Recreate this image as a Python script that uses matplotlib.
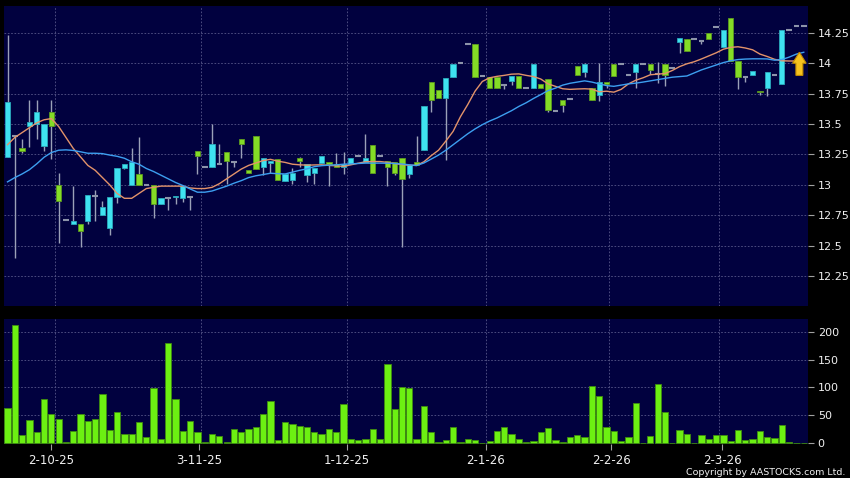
import numpy as np
import matplotlib
matplotlib.use("Agg")
import matplotlib.pyplot as plt
from matplotlib.patches import FancyArrow

# daily candles (oldest first)
opens = [13.23, 13.40, 13.30, 13.48, 13.50, 13.32, 13.60, 13.00, 12.71, 12.68,
         12.68, 12.70, 12.91, 12.75, 12.65, 12.90, 13.14, 13.00, 13.09, 13.00,
         13.00, 12.84, 12.89, 12.90, 12.89, 12.90, 13.28, 13.15, 13.15, 13.17,
         13.27, 13.19, 13.38, 13.12, 13.40, 13.15, 13.18, 13.21, 13.03, 13.04,
         13.22, 13.08, 13.10, 13.18, 13.19, 13.17, 13.15, 13.17, 13.24, 13.19,
         13.33, 13.24, 13.20, 13.19, 13.22, 13.09, 13.19, 13.29, 13.845, 13.78,
         13.715, 13.89, 14.00, 14.16, 14.16, 13.895, 13.89, 13.89, 13.82, 13.85,
         13.895, 13.80, 13.80, 13.83, 13.87, 13.61, 13.70, 13.705, 13.98, 13.93,
         13.80, 13.735, 13.845, 13.995, 13.995, 13.90, 13.93, 13.99, 13.995, 13.915,
         13.995, 13.96, 14.175, 14.20, 14.195, 14.18, 14.25, 14.30, 14.135, 14.375,
         14.015, 13.885, 13.90, 13.775, 13.80, 13.90, 13.83, 14.27, 14.305, 14.305]
highs = [14.23, 13.40, 13.38, 13.70, 13.70, 13.50, 13.70, 13.10, 12.71, 12.99,
         12.68, 12.92, 12.96, 12.87, 12.90, 13.14, 13.17, 13.30, 13.39, 13.00,
         13.00, 12.89, 12.89, 12.91, 12.99, 12.90, 13.28, 13.15, 13.50, 13.34,
         13.27, 13.19, 13.38, 13.12, 13.40, 13.22, 13.20, 13.21, 13.09, 13.14,
         13.23, 13.17, 13.14, 13.24, 13.19, 13.26, 13.27, 13.22, 13.24, 13.42,
         13.33, 13.24, 13.20, 13.19, 13.22, 13.16, 13.40, 13.645, 13.845, 13.78,
         13.88, 13.995, 14.00, 14.16, 14.16, 13.895, 13.89, 13.89, 13.82, 13.895,
         13.895, 13.80, 13.99, 13.83, 13.87, 13.61, 13.70, 13.705, 13.98, 14.00,
         13.80, 14.00, 13.845, 13.995, 13.995, 13.90, 13.995, 13.99, 13.995, 14.01,
         13.995, 13.96, 14.21, 14.20, 14.195, 14.18, 14.25, 14.30, 14.27, 14.375,
         14.015, 13.885, 13.94, 13.775, 13.93, 13.90, 14.27, 14.27, 14.305, 14.305]
lows = [13.23, 12.40, 13.26, 13.31, 13.38, 13.28, 13.21, 12.52, 12.71, 12.68,
        12.49, 12.68, 12.70, 12.75, 12.59, 12.85, 13.13, 13.00, 13.00, 13.00,
        12.73, 12.84, 12.79, 12.84, 12.86, 12.79, 13.09, 13.15, 13.15, 13.17,
        13.01, 13.15, 13.22, 13.10, 13.13, 13.08, 13.10, 13.04, 13.03, 13.01,
        13.15, 13.02, 13.01, 13.18, 12.99, 13.15, 13.09, 13.17, 13.24, 13.19,
        13.10, 13.24, 12.99, 13.08, 12.49, 13.06, 13.16, 13.29, 13.60, 13.71,
        13.205, 13.89, 14.00, 14.16, 13.89, 13.895, 13.795, 13.795, 13.79, 13.82,
        13.80, 13.80, 13.80, 13.80, 13.60, 13.61, 13.60, 13.705, 13.90, 13.89,
        13.70, 13.69, 13.80, 13.895, 13.995, 13.90, 13.80, 13.99, 13.91, 13.84,
        13.815, 13.96, 14.085, 14.10, 14.195, 14.16, 14.20, 14.30, 14.135, 14.015,
        13.79, 13.845, 13.90, 13.74, 13.73, 13.90, 13.83, 14.27, 14.305, 14.305]
closes = [13.68, 13.40, 13.28, 13.52, 13.60, 13.50, 13.48, 12.87, 12.71, 12.70,
          12.62, 12.92, 12.91, 12.82, 12.90, 13.14, 13.17, 13.19, 13.00, 13.00,
          12.84, 12.89, 12.89, 12.91, 12.99, 12.90, 13.24, 13.15, 13.34, 13.17,
          13.20, 13.19, 13.34, 13.10, 13.13, 13.22, 13.195, 13.04, 13.09, 13.10,
          13.195, 13.17, 13.14, 13.24, 13.17, 13.15, 13.17, 13.22, 13.24, 13.22,
          13.10, 13.24, 13.15, 13.10, 13.05, 13.16, 13.16, 13.645, 13.70, 13.71,
          13.88, 13.995, 14.00, 14.16, 13.89, 13.895, 13.795, 13.795, 13.82, 13.895,
          13.80, 13.80, 13.99, 13.80, 13.615, 13.61, 13.655, 13.705, 13.90, 13.99,
          13.70, 13.845, 13.825, 13.895, 13.995, 13.90, 13.995, 13.99, 13.945, 13.915,
          13.90, 13.96, 14.21, 14.10, 14.195, 14.18, 14.20, 14.30, 14.27, 14.015,
          13.885, 13.885, 13.94, 13.76, 13.93, 13.90, 14.27, 14.27, 14.305, 14.305]
volumes = [63, 213, 14, 42, 19, 79, 52, 43, 2, 22,
           52, 39, 43, 89, 23, 56, 17, 17, 37, 10,
           99, 7, 180, 79, 22, 39, 19, 2, 16, 12,
           2, 26, 20, 26, 29, 52, 76, 6, 38, 35,
           31, 28, 20, 17, 26, 19, 71, 7, 5, 7,
           25, 7, 142, 61, 101, 99, 7, 67, 20, 2,
           5, 28, 2, 8, 5, 0.5, 4, 22, 28, 17,
           7, 2, 4, 20, 27, 5, 2, 10, 14, 11,
           103, 85, 28, 22, 4, 11, 72, 0, 12, 106,
           56, 0, 23, 16, 0, 14, 8, 15, 15, 3,
           24, 5, 8, 21, 11, 9, 32, 2, 0.5, 0]
# moving averages as drawn (orange short, blue long)
ma_short = [13.33, 13.39, 13.43, 13.47, 13.51, 13.535, 13.545, 13.48, 13.39, 13.30,
            13.23, 13.16, 13.12, 13.06, 13.00, 12.93, 12.89, 12.89, 12.93, 12.97,
            12.98, 12.99, 12.99, 12.99, 12.99, 12.975, 12.97, 12.97, 12.98, 13.01,
            13.05, 13.09, 13.13, 13.16, 13.18, 13.20, 13.21, 13.195, 13.185, 13.17,
            13.165, 13.162, 13.164, 13.165, 13.16, 13.157, 13.152, 13.165, 13.178, 13.19,
            13.192, 13.192, 13.185, 13.175, 13.167, 13.162, 13.16, 13.19, 13.24, 13.285,
            13.36, 13.44, 13.56, 13.66, 13.77, 13.85, 13.88, 13.892, 13.90, 13.91,
            13.912, 13.90, 13.89, 13.87, 13.83, 13.81, 13.79, 13.785, 13.788, 13.79,
            13.787, 13.765, 13.77, 13.762, 13.785, 13.83, 13.86, 13.88, 13.905, 13.91,
            13.915, 13.94, 13.972, 13.995, 14.012, 14.035, 14.06, 14.085, 14.115, 14.13,
            14.135, 14.125, 14.11, 14.075, 14.055, 14.032, 14.02, 14.018, 14.018, 14.02]
ma_long = [13.025, 13.06, 13.09, 13.125, 13.173, 13.227, 13.266, 13.285, 13.288, 13.283,
           13.272, 13.26, 13.26, 13.257, 13.245, 13.235, 13.219, 13.19, 13.17, 13.135,
           13.11, 13.08, 13.05, 13.02, 12.995, 12.967, 12.94, 12.94, 12.95, 12.97,
           12.99, 13.014, 13.035, 13.06, 13.075, 13.085, 13.096, 13.092, 13.09, 13.105,
           13.12, 13.132, 13.15, 13.158, 13.162, 13.165, 13.17, 13.173, 13.176, 13.179,
           13.179, 13.179, 13.178, 13.176, 13.172, 13.165, 13.159, 13.18, 13.212, 13.245,
           13.285, 13.33, 13.375, 13.42, 13.46, 13.495, 13.525, 13.55, 13.58, 13.61,
           13.645, 13.675, 13.71, 13.742, 13.775, 13.795, 13.82, 13.835, 13.845, 13.855,
           13.845, 13.83, 13.816, 13.81, 13.82, 13.83, 13.836, 13.845, 13.855, 13.865,
           13.875, 13.885, 13.89, 13.895, 13.92, 13.945, 13.965, 13.985, 14.005, 14.02,
           14.03, 14.034, 14.036, 14.036, 14.035, 14.025, 14.03, 14.05, 14.075, 14.09]

date_labels = ['2-10-25', '3-11-25', '1-12-25', '2-1-26', '2-2-26', '2-3-26']
price_ticks = [12.25, 12.5, 12.75, 13, 13.25, 13.5, 13.75, 14, 14.25]
price_labels = ['12.25', '12.5', '12.75', '13', '13.25', '13.5', '13.75', '14', '14.25']
volume_ticks = [0, 50, 100, 150, 200]

# layout (bar-index positions of the month labels and the vertical grid)
date_pos = [5.96, 26.26, 46.43, 65.5, 82.62, 97.85]
grid_pos = [6.54, 26.53, 46.52, 65.46, 82.38, 97.44]

NAVY = '#01013f'
GRID = '#58588a'
TXT = '#f0f0f0'
UP, UP_EDGE = '#3fe2f0', '#2aa9bc'
DN, DN_EDGE = '#84dc26', '#5c9a1e'
FLAT = '#8d94aa'
WICK = '#9ba1b8'

o = np.array(opens)
h = np.array(highs)
l = np.array(lows)
c = np.array(closes)
x = np.arange(len(o))
up = c > o
dn = c < o
flat = c == o

fig = plt.figure(figsize=(8.5, 4.78), dpi=100, facecolor='black')
ax = fig.add_axes([4 / 850, 1 - 306 / 478, 804 / 850, 300 / 478])
axv = fig.add_axes([4 / 850, 1 - 444 / 478, 804 / 850, 125 / 478])

for a in (ax, axv):
    a.set_facecolor(NAVY)
    for s in a.spines.values():
        s.set_visible(False)
    a.set_xlim(-0.48, 109.58)
    for g in grid_pos:
        a.axvline(g, color=GRID, ls=(0, (2, 2)), lw=0.6, zorder=0)
    a.yaxis.tick_right()
    a.tick_params(axis='y', colors='#a0a0a0', labelcolor=TXT, labelsize=8,
                  length=4, width=0.8, pad=3)

# price panel
for p in price_ticks:
    ax.axhline(p, color=GRID, ls=(0, (2, 2)), lw=0.6, zorder=0)
ax.vlines(x, l, h, color=WICK, lw=1, zorder=2)
ax.bar(x[up], (c - o)[up], bottom=o[up], width=0.72, color=UP,
       edgecolor=UP_EDGE, lw=0.6, zorder=3)
ax.bar(x[dn], (o - c)[dn], bottom=c[dn], width=0.72, color=DN,
       edgecolor=DN_EDGE, lw=0.6, zorder=3)
ax.hlines(c[flat], x[flat] - 0.38, x[flat] + 0.38, color=FLAT, lw=1.5, zorder=3)
ax.plot(x, ma_short, color='#e3936a', lw=1, zorder=4)
ax.plot(x, ma_long, color='#3d9ff0', lw=1, zorder=4)
ax.add_patch(FancyArrow(108.4, 13.90, 0, 0.19, width=0.95, head_width=1.85,
                        head_length=0.09, length_includes_head=True,
                        fc='#f6c21e', ec='#c48d00', lw=0.8, zorder=6))
ax.set_ylim(12.005, 14.47)
ax.set_yticks(price_ticks, price_labels)
ax.set_xticks([])

# volume panel
for v in volume_ticks[1:]:
    axv.axhline(v, color=GRID, ls=(0, (2, 2)), lw=0.6, zorder=0)
axv.bar(x, volumes, width=0.86, color='#6cf012', edgecolor='#3f8c10',
        lw=0.6, zorder=3)
axv.set_ylim(-1.8, 223.4)
axv.set_yticks(volume_ticks, [str(v) for v in volume_ticks])
axv.set_xticks(date_pos, date_labels)
axv.tick_params(axis='x', colors='#a0a0a0', labelcolor=TXT, labelsize=8.5,
                length=4, width=0.8, pad=3)

fig.text(845 / 850, 1 - 477 / 478, 'Copyright by AASTOCKS.com Ltd.',
         ha='right', va='bottom', color=TXT, fontsize=6.8)

fig.savefig('out.png', dpi=100, facecolor='black')
